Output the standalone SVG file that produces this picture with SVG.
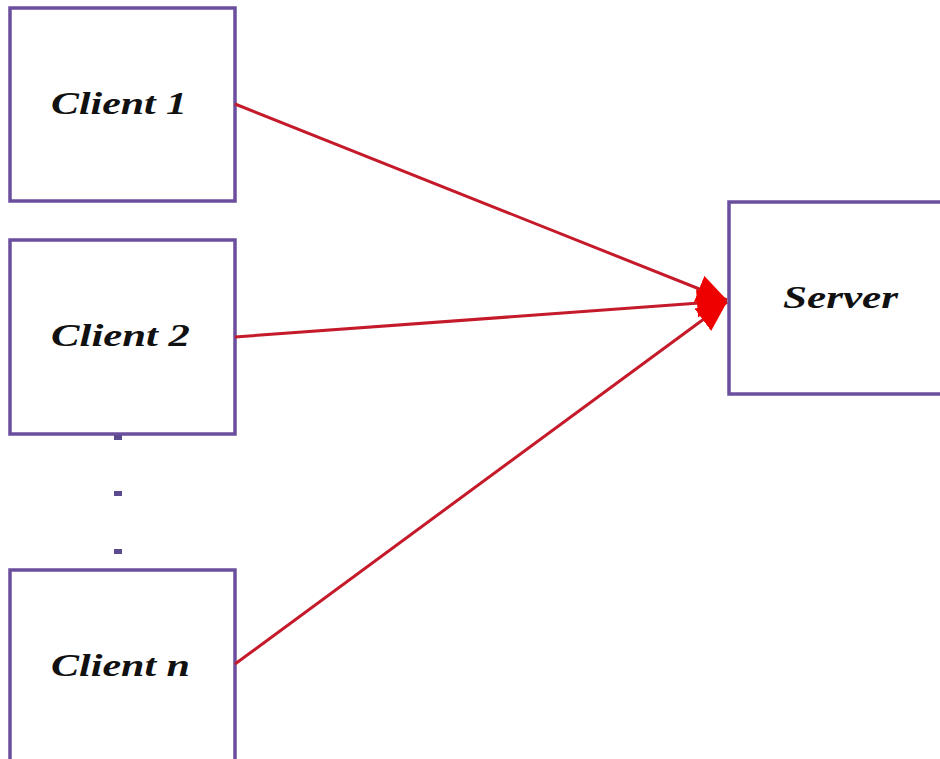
<svg xmlns="http://www.w3.org/2000/svg" width="940" height="759" viewBox="0 0 940 759">
  <style>
    .box { fill: #ffffff; stroke: #6b4f9e; stroke-width: 3.5; }
    .label { font-family: "Liberation Serif", "Times New Roman", serif; font-weight: bold; font-style: italic; font-size: 32px; fill: #111111; }
    .link { stroke: #c41a2a; stroke-width: 3; fill: none; marker-end: url(#head); }
    .dot { fill: #5b4a8e; }
  </style>
  <defs>
    <marker id="head" markerUnits="userSpaceOnUse" markerWidth="34" markerHeight="34" refX="30" refY="14" orient="auto">
      <path d="M0,0 L30,14 L0,28 Z" fill="#ee0000"/>
    </marker>
  </defs>
  <rect width="940" height="759" fill="#ffffff"/>

  <g id="client1">
    <rect class="box" x="10" y="8" width="225" height="193"/>
    <text class="label" x="51" y="114" textLength="136" lengthAdjust="spacingAndGlyphs">Client 1</text>
  </g>

  <g id="client2">
    <rect class="box" x="10" y="240" width="225" height="194"/>
    <text class="label" x="51" y="346" textLength="139" lengthAdjust="spacingAndGlyphs">Client 2</text>
  </g>

  <g id="ellipsis">
    <rect class="dot" x="114" y="435" width="8" height="5"/>
    <rect class="dot" x="114" y="491" width="8" height="5"/>
    <rect class="dot" x="114" y="549" width="8" height="5"/>
  </g>

  <g id="clientn">
    <rect class="box" x="10" y="570" width="225" height="200"/>
    <text class="label" x="51" y="676" textLength="139" lengthAdjust="spacingAndGlyphs">Client n</text>
  </g>

  <g id="server">
    <rect class="box" x="729" y="202" width="230" height="192"/>
    <text class="label" x="783" y="308" textLength="115" lengthAdjust="spacingAndGlyphs">Server</text>
  </g>

  <g id="connectors">
    <line class="link" x1="235" y1="104" x2="727" y2="300"/>
    <line class="link" x1="235" y1="337" x2="727" y2="301"/>
    <line class="link" x1="235" y1="664" x2="727" y2="302"/>
  </g>
</svg>
